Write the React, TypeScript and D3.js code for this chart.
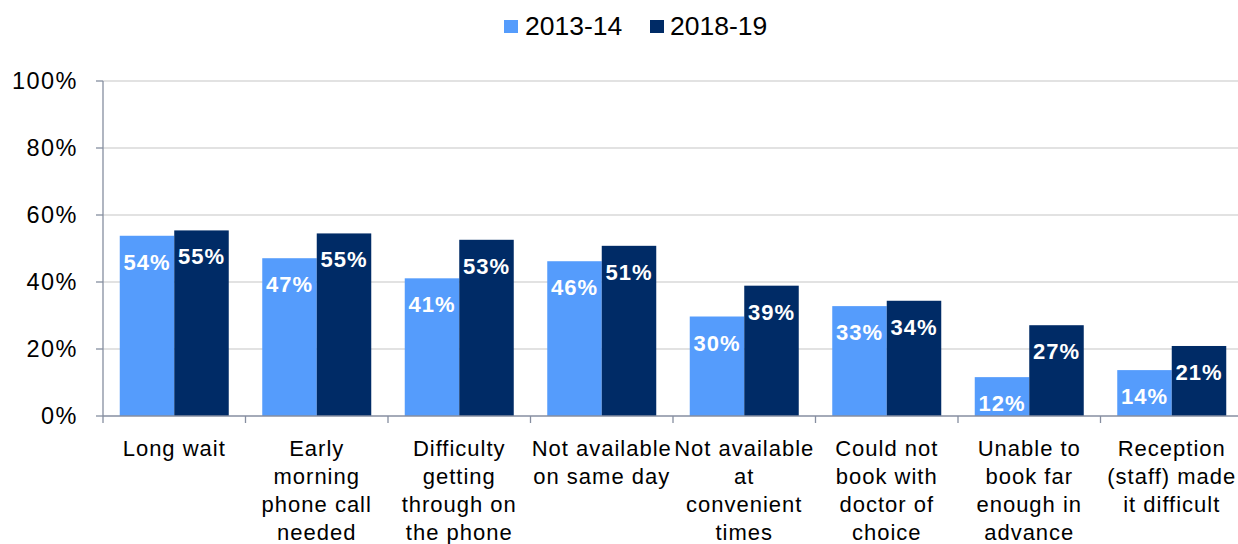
import React, { useEffect, useRef } from "react";
import * as d3 from "d3";

const categories: string[][] = [
  ["Long wait"],
  ["Early", "morning", "phone call", "needed"],
  ["Difficulty", "getting", "through on", "the phone"],
  ["Not available", "on same day"],
  ["Not available", "at", "convenient", "times"],
  ["Could not", "book with", "doctor of", "choice"],
  ["Unable to", "book far", "enough in", "advance"],
  ["Reception", "(staff) made", "it difficult"],
];
const series2013 = [53.8, 47.1, 41.1, 46.2, 29.7, 32.8, 11.6, 13.7];
const series2018 = [55.4, 54.5, 52.6, 50.8, 38.9, 34.4, 27.1, 20.9];
const seriesNames = ["2013-14", "2018-19"];
const yTicks = [0, 20, 40, 60, 80, 100];

const W = 1238;
const H = 544;
const COLORS = ["#559CFC", "#002B66"];
const FONT = "Liberation Sans, Arial, sans-serif";

export default function App() {
  const ref = useRef<SVGSVGElement | null>(null);
  useEffect(() => {
    document.body.style.margin = "0";
    const svg = d3.select(ref.current);
    svg.selectAll("*").remove();

    const x0 = 103, x1 = 103 + 8 * 142.5;
    const y = d3.scaleLinear().domain([0, 100]).range([416, 81]);
    const xb = d3.scaleBand<number>().domain(d3.range(8)).range([x0, x1]).paddingInner(0).paddingOuter(0);
    const barW = 54.5;

    svg.append("g").selectAll("line").data(yTicks.slice(1)).join("line")
      .attr("x1", x0).attr("x2", W).attr("y1", d => y(d)).attr("y2", d => y(d))
      .attr("stroke", "#d9d9d9").attr("stroke-width", 1.3);

    const data = [series2013, series2018];
    data.forEach((s, si) => {
      const g = svg.append("g");
      g.selectAll("rect").data(s).join("rect")
        .attr("x", (_, i) => xb(i)! + xb.bandwidth() / 2 - barW + si * barW)
        .attr("width", barW)
        .attr("y", d => y(d))
        .attr("height", d => y(0) - y(d))
        .attr("fill", COLORS[si]);
      g.selectAll("text").data(s).join("text")
        .attr("x", (_, i) => xb(i)! + xb.bandwidth() / 2 - barW / 2 + si * barW)
        .attr("y", d => y(d) + 34)
        .attr("text-anchor", "middle")
        .attr("fill", "#ffffff")
        .attr("font-family", FONT)
        .attr("font-weight", "bold")
        .attr("font-size", 22)
        .attr("letter-spacing", 1)
        .text(d => `${Math.round(d)}%`);
    });

    svg.append("line").attr("x1", x0).attr("x2", x0).attr("y1", y(100)).attr("y2", y(0))
      .attr("stroke", "#868ea0").attr("stroke-width", 1.3);
    const yt = svg.append("g");
    yt.selectAll("line").data(yTicks).join("line")
      .attr("x1", 96).attr("x2", x0).attr("y1", d => y(d)).attr("y2", d => y(d))
      .attr("stroke", "#868ea0").attr("stroke-width", 1.3);
    yt.selectAll("text").data(yTicks).join("text")
      .attr("x", 78).attr("y", d => y(d) + 8)
      .attr("text-anchor", "end").attr("font-family", FONT).attr("font-size", 23.5)
      .attr("letter-spacing", 1.5)
      .attr("fill", "#000").text(d => `${d}%`);

    svg.append("line").attr("x1", x0).attr("x2", W).attr("y1", y(0)).attr("y2", y(0))
      .attr("stroke", "#868ea0").attr("stroke-width", 1.3);
    const xt = svg.append("g");
    xt.selectAll("line").data(d3.range(9)).join("line")
      .attr("x1", i => x0 + i * xb.bandwidth()).attr("x2", i => x0 + i * xb.bandwidth())
      .attr("y1", y(0)).attr("y2", y(0) + 7)
      .attr("stroke", "#868ea0").attr("stroke-width", 1.3);
    categories.forEach((lines, i) => {
      const t = svg.append("text").attr("text-anchor", "middle").attr("font-family", FONT)
        .attr("font-size", 22).attr("letter-spacing", 1.0).attr("fill", "#000");
      lines.forEach((ln, li) => {
        t.append("tspan").attr("x", xb(i)! + xb.bandwidth() / 2).attr("y", 456 + li * 28).text(ln);
      });
    });

    const leg = [{ x: 504, tx: 525 }, { x: 650, tx: 670 }];
    leg.forEach((l, i) => {
      svg.append("rect").attr("x", l.x).attr("y", 20).attr("width", 14).attr("height", 13).attr("fill", COLORS[i]);
      svg.append("text").attr("x", l.tx).attr("y", 35).attr("font-family", FONT).attr("font-size", 26.5)
        .attr("fill", "#000").text(seriesNames[i]);
    });
  }, []);
  return <svg ref={ref} width={W} height={H} style={{ display: "block" }} />;
}
